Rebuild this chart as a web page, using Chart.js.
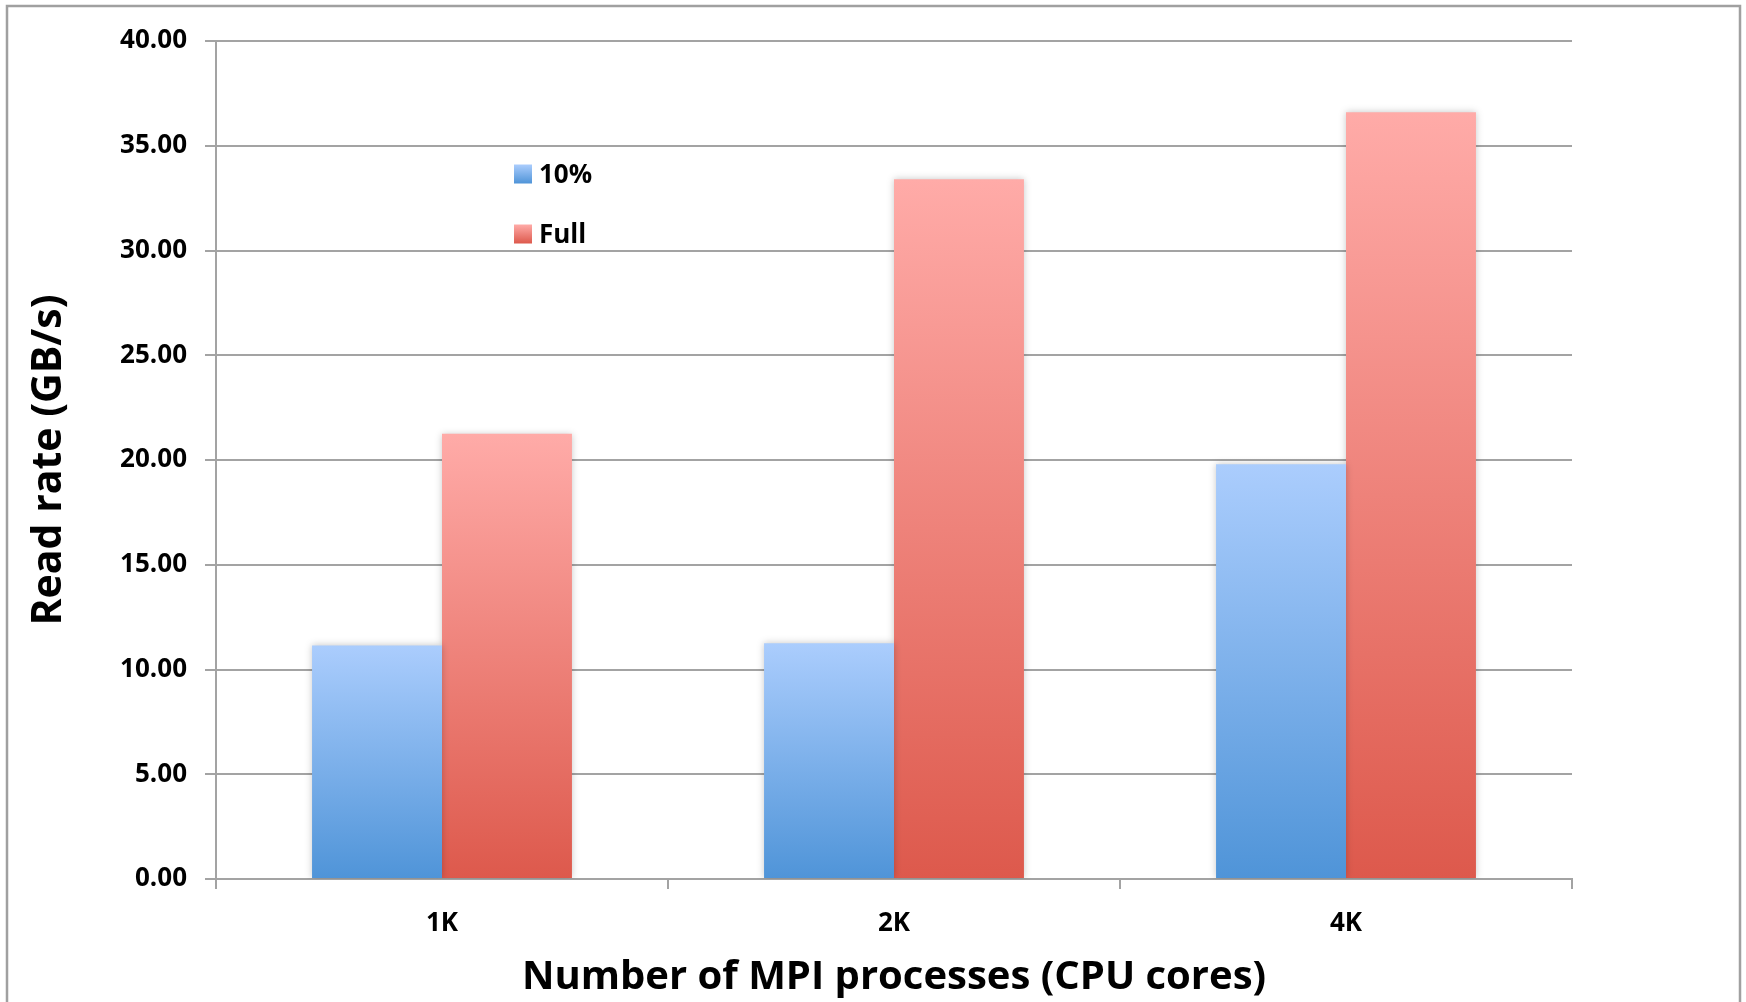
<!DOCTYPE html>
<html>
<head>
<meta charset="utf-8">
<title>Read rate vs. MPI processes</title>
<script src="https://cdn.jsdelivr.net/npm/chart.js@4.4.1/dist/chart.umd.min.js"></script>
<style>
  html, body { margin: 0; padding: 0; background: #ffffff; }
  #chart { display: block; }
</style>
</head>
<body>
<canvas id="chart" width="1746" height="1002"></canvas>
<script>
// Number of MPI processes on the x axis
const categories = ['1K', '2K', '4K'];
// Read rate in GB/s for each data fraction
const tenPercentRates = [11.15, 11.25, 19.8];
const fullRates = [21.25, 33.4, 36.6];
const seriesNames = ['10%', 'Full'];
const xTitle = 'Number of MPI processes (CPU cores)';
const yTitle = 'Read rate (GB/s)';

const FONT = '"Open Sans", Lato, "DejaVu Sans", sans-serif';
const GRID = '#a3a3a3';

// top and bottom gradient stops per series
const palettes = [
  { top: '#abcdfd', bottom: '#4f94d8' },
  { top: '#ffaba8', bottom: '#dd594c' }
];

function barGradient(ctx) {
  const chart = ctx.chart;
  const pal = palettes[ctx.datasetIndex];
  const area = chart.chartArea;
  if (!area || ctx.type !== 'data') return pal.bottom;
  const y = chart.scales.y;
  const top = y.getPixelForValue(ctx.raw);
  const base = y.getPixelForValue(0);
  const g = chart.ctx.createLinearGradient(0, top, 0, base);
  g.addColorStop(0, pal.top);
  g.addColorStop(1, pal.bottom);
  return g;
}

// outer frame around the whole figure
const framePlugin = {
  id: 'frame',
  beforeDraw(chart) {
    const c = chart.ctx;
    c.save();
    c.fillStyle = '#ffffff';
    c.fillRect(0, 0, chart.width, chart.height);
    c.strokeStyle = '#a0a0a0';
    c.lineWidth = 2.5;
    c.beginPath();
    c.moveTo(7, chart.height + 5);
    c.lineTo(7, 6);
    c.lineTo(1740, 6);
    c.lineTo(1740, chart.height + 5);
    c.stroke();
    c.restore();
  }
};

// soft shadow around the bars
const shadowPlugin = {
  id: 'barShadow',
  beforeDatasetsDraw(chart) {
    const c = chart.ctx;
    c.save();
    c.shadowColor = 'rgba(0,0,0,0.22)';
    c.shadowBlur = 7;
    c.shadowOffsetX = 0;
    c.shadowOffsetY = 0;
  },
  afterDatasetsDraw(chart) {
    chart.ctx.restore();
  }
};

// legend drawn inside the plot area
const insideLegend = {
  id: 'insideLegend',
  afterDatasetsDraw(chart) {
    const c = chart.ctx;
    const x0 = 514, sw = 18, sh = 19;
    const rows = [174, 234];
    c.save();
    chart.data.datasets.forEach((ds, i) => {
      const cy = rows[i];
      const pal = palettes[i];
      const g = c.createLinearGradient(0, cy - sh / 2, 0, cy + sh / 2);
      g.addColorStop(0, pal.top);
      g.addColorStop(1, pal.bottom);
      c.fillStyle = g;
      c.fillRect(x0, cy - sh / 2, sw, sh);
      c.fillStyle = '#000000';
      c.font = 'bold 26px ' + FONT;
      c.textBaseline = 'middle';
      c.textAlign = 'left';
      c.fillText(ds.label, x0 + 25, cy + 2);
    });
    c.restore();
  }
};

new Chart(document.getElementById('chart'), {
  type: 'bar',
  data: {
    labels: categories,
    datasets: [
      { label: seriesNames[0], data: tenPercentRates, backgroundColor: barGradient },
      { label: seriesNames[1], data: fullRates, backgroundColor: barGradient }
    ]
  },
  options: {
    responsive: false,
    devicePixelRatio: 1,
    animation: false,
    layout: { padding: { left: 0, right: 174, top: 41, bottom: 0 } },
    datasets: { bar: { categoryPercentage: 0.575, barPercentage: 1.0, borderWidth: 0 } },
    plugins: {
      legend: { display: false },
      tooltip: { enabled: false }
    },
    scales: {
      x: {
        afterFit(scale) { scale.height = 123; },
        grid: {
          offset: true,
          drawOnChartArea: false,
          drawTicks: true,
          tickLength: 10,
          color: GRID,
          lineWidth: 2
        },
        border: { display: true, color: GRID, width: 2 },
        ticks: {
          padding: 19,
          color: '#000000',
          font: { family: FONT, size: 26, weight: 'bold' }
        },
        title: {
          display: true,
          text: xTitle,
          color: '#000000',
          padding: { top: 0, bottom: 0 },
          font: { family: FONT, size: 40, weight: 'bold' }
        }
      },
      y: {
        min: 0,
        max: 40,
        afterFit(scale) { scale.width = 216; },
        grid: {
          color: GRID,
          lineWidth: 2,
          drawTicks: true,
          tickLength: 11
        },
        border: { display: true, color: GRID, width: 2 },
        ticks: {
          stepSize: 5,
          padding: 18,
          color: '#000000',
          font: { family: FONT, size: 26, weight: 'bold' },
          callback: (v) => Number(v).toFixed(2)
        },
        title: {
          display: true,
          text: yTitle,
          color: '#000000',
          padding: { top: 25, bottom: 0 },
          font: { family: FONT, size: 41, weight: 'bold' }
        }
      }
    }
  },
  plugins: [framePlugin, shadowPlugin, insideLegend]
});
</script>
</body>
</html>
